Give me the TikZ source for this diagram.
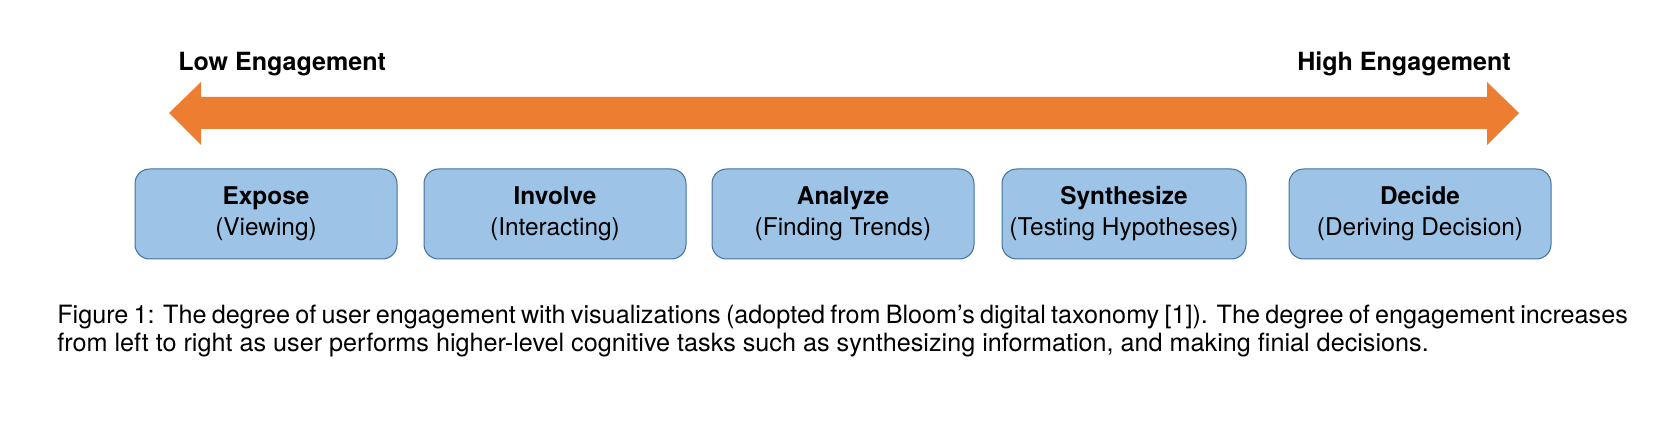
\documentclass[tikz,border=0pt]{standalone}
\usepackage{fontspec}
\setmainfont{TeX Gyre Heros}
\usetikzlibrary{positioning}
\definecolor{stageblue}{RGB}{157,195,230}
\definecolor{stageedge}{RGB}{65,113,156}
\definecolor{engorange}{RGB}{237,125,49}
\tikzset{
  stagebox/.style={draw=stageedge, line width=0.75pt, fill=stageblue, rounded corners=11pt,
    minimum width=196.5pt, minimum height=67.5pt, align=center, inner sep=0pt,
    font=\fontsize{18.3}{23.25}\selectfont},
  endlabel/.style={font=\fontsize{18.8}{22}\selectfont\bfseries, inner sep=0pt},
}
\begin{document}
\begin{tikzpicture}[x=0.75pt,y=0.75pt,yscale=-1,xscale=1]
\useasboundingbox (0,0) rectangle (1663,441);

%Engagement arrow
\fill [engorange] (169,113) -- (201,82) -- (201,97) -- (1487,97) -- (1487,82) -- (1519,113) -- (1487,145) -- (1487,129) -- (201,129) -- (201,145) -- cycle ;

% Text Node
\node (low) [endlabel, anchor=base west] at (178,71) {Low Engagement};
% Text Node
\node (high) [endlabel, anchor=base east] at (1511,71) {High Engagement};

%Stages
\node (expose) [stagebox] at (266,214) {\textbf{Expose}\\(Viewing)};
\node (involve) [stagebox] at (555,214) {\textbf{Involve}\\(Interacting)};
\node (analyze) [stagebox] at (843,214) {\textbf{Analyze}\\(Finding Trends)};
\node (synthesize) [stagebox, minimum width=183pt] at (1124,214) {\textbf{Synthesize}\\(Testing Hypotheses)};
\node (decide) [stagebox] at (1420,214) {\textbf{Decide}\\(Deriving Decision)};

% Caption
\node (caption) [anchor=base west, align=left, inner sep=0pt, font=\fontsize{18.9}{21}\selectfont] at (57,352)
  {\makebox[1178pt][s]{Figure 1: The degree of user engagement with visualizations (adopted from Bloom’s digital taxonomy [1]). The degree of engagement increases}\\
   from left to right as user performs higher-level cognitive tasks such as synthesizing information, and making finial decisions.};
\end{tikzpicture}
\end{document}
